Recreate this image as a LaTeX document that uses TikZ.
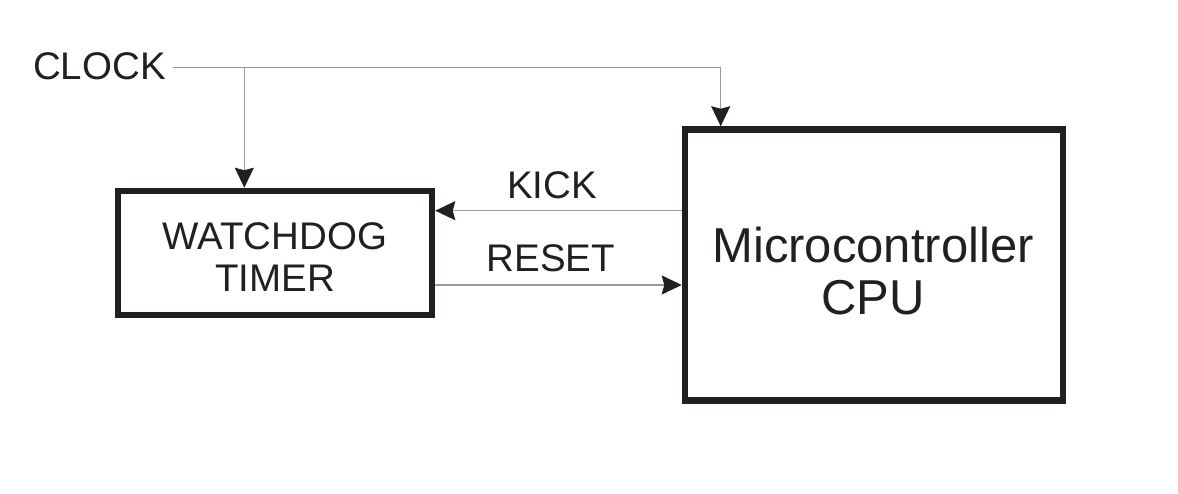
\documentclass[tikz,border=0pt]{standalone}
\usepackage{fontspec}
\setmainfont{Liberation Sans}
\usetikzlibrary{arrows.meta}
\definecolor{ink}{HTML}{231F20}
\definecolor{wirec}{HTML}{9A9A9A}
\tikzset{
  blockbox/.style={draw=ink, line width=6.5pt, rectangle, inner sep=0pt},
  blocktext/.style={inner sep=0pt, align=center, text=ink},
  lbl/.style={inner sep=0pt, text=ink, font=\fontsize{38.5}{42}\selectfont},
  wire/.style={draw=wirec, line width=1.4pt},
  tip/.style={-{Stealth[length=20pt,width=19pt,inset=2.5pt,color=ink]}}
}
\begin{document}
\begin{tikzpicture}[x=1pt,y=-1pt]
\useasboundingbox (0,0) rectangle (1178,494);
\fill[white] (0,0) rectangle (1178,494);
\node[blockbox, minimum width=314pt, minimum height=124pt] (wd) at (275,253) {};
\node[blocktext, font=\fontsize{38.5}{42}\selectfont] (wdtext) at (275,257) {WATCHDOG\\TIMER};
\node[blockbox, minimum width=378pt, minimum height=271pt] (cpu) at (874,265) {};
\node[blocktext, font=\fontsize{49}{52}\selectfont] (cputext) at (873,271) {Microcontroller\\CPU};
\node[lbl, anchor=east] (clock) at (166,66) {CLOCK};
\node[lbl] (kick) at (552,185) {KICK};
\node[lbl] (reset) at (551,258) {RESET};
\coordinate (clkstart) at (173,67.3);
\coordinate (clkj) at (244.3,67.3);
\coordinate (cpuin) at (720.7,67.3);
\coordinate (kicky) at (0,210.7);
\coordinate (resety) at (0,285);
\draw[wire, tip] (clkstart) -- (cpuin) -- (cpuin |- cpu.north);
\draw[wire, tip] (clkj) -- (clkj |- wd.north);
\draw[wire, tip] (cpu.west |- kicky) -- (wd.east |- kicky);
\draw[wire, tip] (wd.east |- resety) -- (cpu.west |- resety);
\end{tikzpicture}
\end{document}
